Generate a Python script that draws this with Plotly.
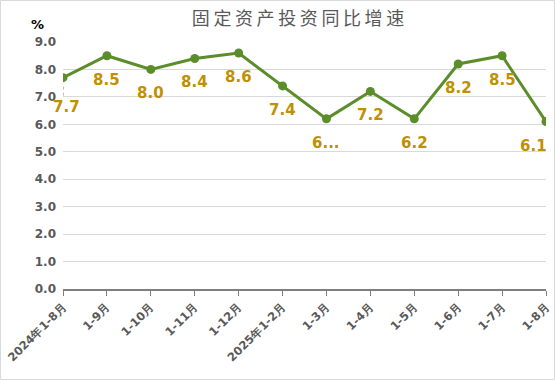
import plotly.graph_objects as go

categories = ["2024年1-8月", "1-9月", "1-10月", "1-11月", "1-12月", "2025年1-2月",
              "1-3月", "1-4月", "1-5月", "1-6月", "1-7月", "1-8月"]
values = [7.7, 8.5, 8.0, 8.4, 8.6, 7.4, 6.2, 7.2, 6.2, 8.2, 8.5, 6.1]
label_texts = ["7.7", "8.5", "8.0", "8.4", "8.6", "7.4", "6...", "7.2", "6.2", "8.2", "8.5", "6.1"]
y_ticks = [0, 1, 2, 3, 4, 5, 6, 7, 8, 9]

W, H = 555, 380
L, R, T, B = 63, 9, 42, 91
PW, PH = W - L - R, H - T - B

GREEN = "#5B8D2B"
GOLD = "#BF9000"
GRAY = "#595959"

fig = go.Figure()
fig.add_trace(go.Scatter(
    x=categories, y=values, mode="lines+markers",
    line=dict(color=GREEN, width=3),
    marker=dict(color=GREEN, size=9),
    cliponaxis=True, hoverinfo="skip",
))

annotations = []
for i, (c, v, t) in enumerate(zip(categories, values, label_texts)):
    xs = 0
    ys = -24
    if i == 0:
        xs, ys = 3, -29
    if i == len(values) - 1:
        xs = -13
    annotations.append(dict(
        x=c, y=v, text=t, showarrow=False, xshift=xs, yshift=ys,
        xanchor="center", yanchor="middle",
        font=dict(family="DejaVu Sans", size=15, color=GOLD, weight="bold"),
    ))

annotations.append(dict(
    xref="paper", yref="paper", x=(37.5 - L) / PW, y=(H - B - 24.5) / PH,
    xanchor="center", yanchor="middle",
    text="%", showarrow=False,
    font=dict(family="DejaVu Sans", size=13, color="#000000", weight="bold"),
))

fig.update_layout(
    width=W, height=H,
    margin=dict(l=L, r=R, t=T, b=B, pad=0, autoexpand=False),
    paper_bgcolor="white", plot_bgcolor="white",
    showlegend=False,
    title=dict(
        text="\u2009".join("固定资产投资同比增速"),
        x=298 / W, xref="container", xanchor="center",
        y=1 - 19 / H, yref="container", yanchor="middle",
        font=dict(family="Noto Sans CJK SC", size=18, color=GRAY),
        automargin=False,
    ),
    annotations=annotations,
    shapes=[
        dict(
            type="rect", xref="paper", yref="paper",
            x0=-L / PW + 0.5 / PW, x1=1 + R / PW - 0.5 / PW,
            y0=-B / PH + 0.5 / PH, y1=1 + T / PH - 0.5 / PH,
            line=dict(color="#D9D9D9", width=1), layer="below",
        ),
        dict(
            type="line", xref="x", yref="y", x0=categories[0], x1=categories[0],
            ysizemode="pixel", yanchor=values[0], y0=-9, y1=-20,
            line=dict(color="#7F7F7F", width=1, dash="dot"),
        ),
    ],
)

fig.update_xaxes(
    type="category", range=[0, len(categories) - 1],
    automargin=False,
    showgrid=False, showline=True, linecolor="#7F7F7F", linewidth=1.5,
    ticks="outside", ticklen=5, tickcolor="#7F7F7F", tickwidth=1,
    tickangle=-45,
    tickfont=dict(family="DejaVu Sans", size=11.5, color=GRAY, weight="bold"),
    zeroline=False,
)
fig.update_yaxes(
    range=[0, 9], tickvals=y_ticks, tickformat=".1f",
    automargin=False,
    showgrid=True, gridcolor="#D9D9D9", gridwidth=1,
    showline=False, zeroline=False, ticks="",
    ticklabelstandoff=6,
    tickfont=dict(family="DejaVu Sans", size=12, color=GRAY, weight="bold"),
)

fig.write_html(
    "out.html",
    config={"displayModeBar": False},
    post_script="document.body.style.margin='0';document.body.style.overflow='hidden';",
)
